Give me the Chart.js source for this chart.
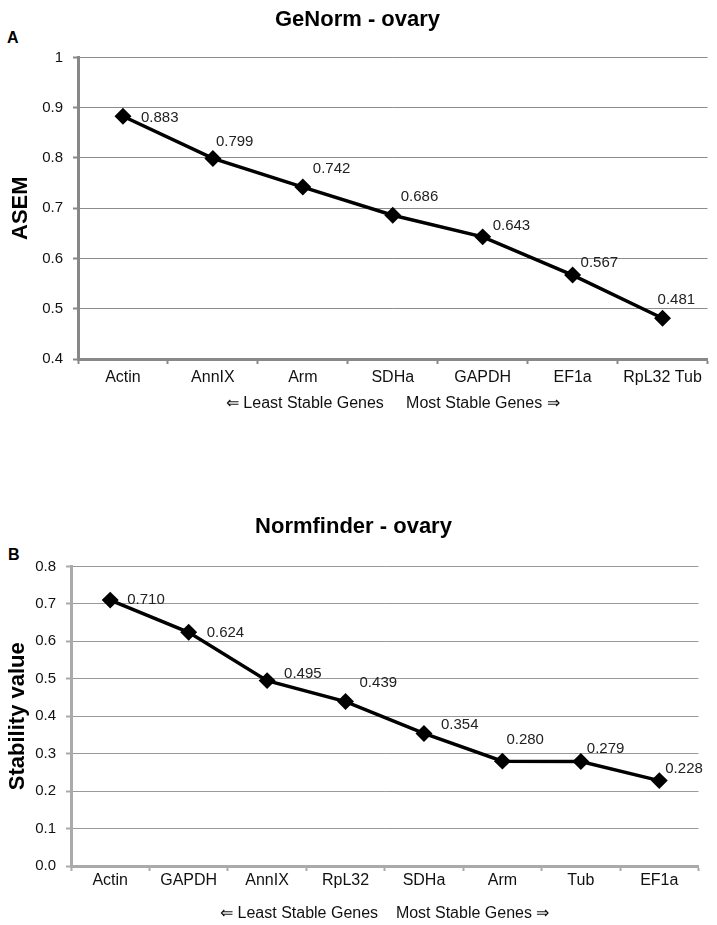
<!DOCTYPE html>
<html>
<head>
<meta charset="utf-8">
<script src="https://cdn.jsdelivr.net/npm/chart.js@4.4.1/dist/chart.umd.min.js"></script>
<style>
  body { margin: 0; background: #fff; width: 717px; height: 925px; position: relative; overflow: hidden; }
  canvas { position: absolute; left: 0; }
  .panel { position: absolute; font: bold 16px "Liberation Sans", Arial, sans-serif; color: #000; }
</style>
</head>
<body>
<div class="panel" style="left:7px; top:29px;">A</div>
<canvas id="chartA" width="717" height="430" style="top:0;"></canvas>
<div class="panel" style="left:8px; top:546px;">B</div>
<canvas id="chartB" width="708" height="425" style="top:500px;"></canvas>

<script>
// Données
const genesA = ['Actin', 'AnnIX', 'Arm', 'SDHa', 'GAPDH', 'EF1a', 'RpL32 Tub'];
const asemA = [0.883, 0.799, 0.742, 0.686, 0.643, 0.567, 0.481];
const yTicksA = ['0.4', '0.5', '0.6', '0.7', '0.8', '0.9', '1'];

const genesB = ['Actin', 'GAPDH', 'AnnIX', 'RpL32', 'SDHa', 'Arm', 'Tub', 'EF1a'];
const stabilityB = [0.710, 0.624, 0.495, 0.439, 0.354, 0.280, 0.279, 0.228];
const yTicksB = ['0.0', '0.1', '0.2', '0.3', '0.4', '0.5', '0.6', '0.7', '0.8'];

const FONT = '"Liberation Sans", Arial, sans-serif';
Chart.defaults.font.family = FONT;
Chart.defaults.color = '#111';

// petit plugin pour écrire la valeur à côté de chaque point (décalages en px)
const valueLabels = {
    id: 'valueLabels',
    afterDatasetsDraw(chart, args, opts) {
        const ctx = chart.ctx;
        const meta = chart.getDatasetMeta(0);
        const values = chart.data.datasets[0].data;
        ctx.save();
        ctx.font = '15px ' + FONT;
        ctx.fillStyle = '#222';
        ctx.textAlign = 'left';
        ctx.textBaseline = 'middle';
        meta.data.forEach((pt, i) => {
            const off = opts.offsets[i] || [8, -12];
            ctx.fillText(values[i].toFixed(3), pt.x + off[0], pt.y + off[1]);
        });
        ctx.restore();
    }
};

function makeChart(id, labels, values, cfg) {
    const ctx = document.getElementById(id).getContext('2d');
    return new Chart(ctx, {
        type: 'line',
        data: {
            labels: labels,
            datasets: [{
                data: values,
                borderColor: '#000',
                backgroundColor: '#000',
                borderWidth: 3.5,
                pointStyle: 'rectRot',
                pointRadius: 6,
                pointHoverRadius: 6,
                tension: 0
            }]
        },
        options: {
            responsive: false,
            animation: false,
            devicePixelRatio: 1,
            layout: { padding: { left: 0, right: cfg.padRight, top: 0, bottom: 0 } },
            plugins: {
                legend: { display: false },
                tooltip: { enabled: false },
                title: {
                    display: true,
                    text: cfg.title,
                    color: '#000',
                    font: { size: 22, weight: 'bold' },
                    padding: { top: cfg.titleTop, bottom: cfg.titleBottom }
                },
                valueLabels: { offsets: cfg.offsets }
            },
            scales: {
                x: {
                    offset: true,
                    afterFit: s => { s.height = cfg.xHeight; },
                    grid: {
                        offset: true,
                        drawOnChartArea: false,
                        drawTicks: true,
                        tickLength: 5,
                        tickWidth: 2,
                        tickColor: cfg.axisColor
                    },
                    border: { color: cfg.axisColor, width: 3 },
                    ticks: { autoSkip: false, maxRotation: 0, padding: cfg.xTickPad, font: { size: 16 }, color: '#111' },
                    title: {
                        display: true,
                        text: cfg.xTitle,
                        font: { size: 16 },
                        color: '#111',
                        padding: { top: 0, bottom: cfg.xTitlePad }
                    }
                },
                y: {
                    min: cfg.min,
                    max: cfg.max,
                    afterFit: s => { s.width = cfg.yWidth; },
                    ticks: {
                        stepSize: 0.1,
                        padding: 10,
                        font: { size: 15 },
                        color: '#111',
                        callback: (v, i) => cfg.yTicks[i]
                    },
                    grid: {
                        color: cfg.gridColor,
                        lineWidth: 1,
                        tickLength: 5,
                        tickWidth: 2,
                        tickColor: cfg.axisColor
                    },
                    border: { color: cfg.axisColor, width: 3 },
                    title: {
                        display: true,
                        text: cfg.yTitle,
                        color: '#000',
                        font: { size: 22, weight: 'bold' },
                        padding: { top: cfg.yTitlePad, bottom: 0 }
                    }
                }
            }
        },
        plugins: [valueLabels]
    });
}

// A - GeNorm
makeChart('chartA', genesA, asemA, {
    title: 'GeNorm - ovary',
    titleTop: 7, titleBottom: 24,
    padRight: 2,
    xHeight: 71, xTickPad: 4, xTitlePad: 17,
    xTitle: '\u21D0 Least Stable Genes     Most Stable Genes \u21D2',
    yWidth: 78, yTitlePad: 8, yTitle: 'ASEM',
    min: 0.4, max: 1, yTicks: yTicksA,
    axisColor: '#888', gridColor: '#8c8c8c',
    offsets: [[18, 2], [3, -17], [10, -18], [8, -18], [10, -11], [8, -12], [-5, -18]]
});

// B - Normfinder
makeChart('chartB', genesB, stabilityB, {
    title: 'Normfinder - ovary',
    titleTop: 14, titleBottom: 26,
    padRight: 1,
    xHeight: 59, xTickPad: 0, xTitlePad: 2,
    xTitle: '\u21D0 Least Stable Genes    Most Stable Genes \u21D2',
    yWidth: 71, yTitlePad: 5, yTitle: 'Stability value',
    min: 0, max: 0.8, yTicks: yTicksB,
    axisColor: '#aaa', gridColor: '#999',
    offsets: [[17, 0], [18, 1], [17, -7], [14, -19], [17, -9], [4, -21], [6, -13], [6, -12]]
});
</script>
</body>
</html>
